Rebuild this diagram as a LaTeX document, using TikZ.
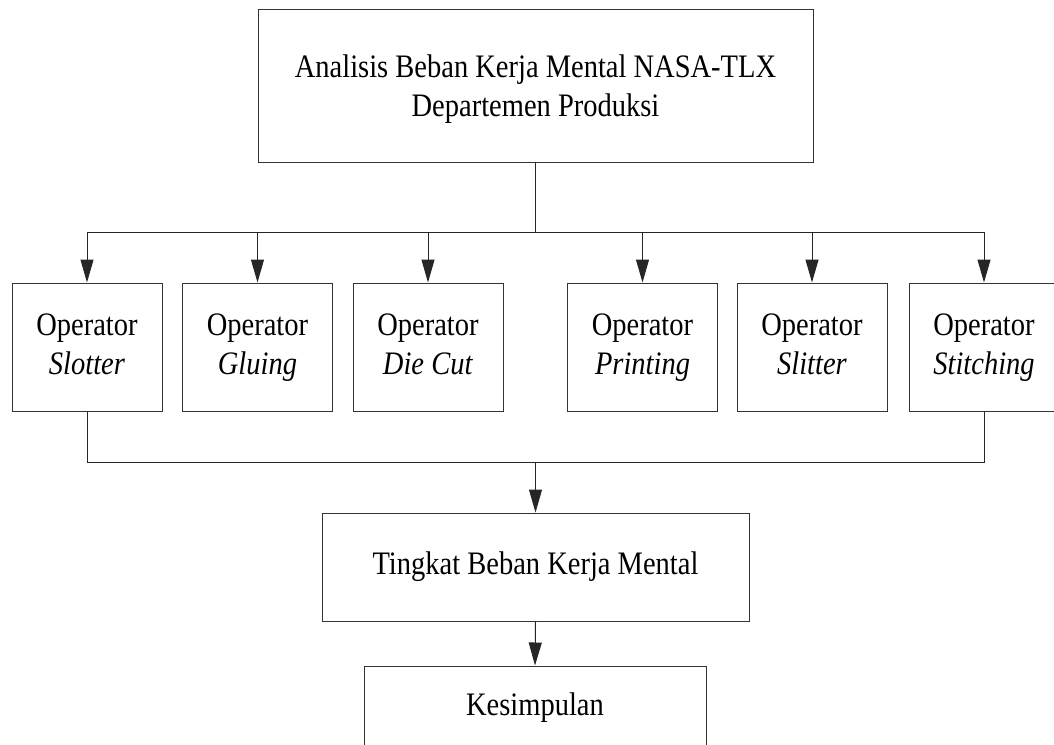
\documentclass[tikz,border=0pt]{standalone}
\usepackage{fontspec}
\setmainfont{Liberation Serif}
\usetikzlibrary{arrows.meta}
\newcommand{\vtxt}[1]{\scalebox{1}[1.15]{\begin{tabular}{@{}c@{}}#1\end{tabular}}}
\begin{document}
\begin{tikzpicture}[x=1pt,y=1pt,
  box/.style={draw=black!80, line width=1pt, rectangle, inner sep=0pt,
    font=\fontsize{28.5}{34}\selectfont},
  opbox/.style={box, minimum width=150pt, minimum height=128pt},
  conn/.style={draw=black!85, line width=1pt},
  arr/.style={conn, -{Triangle[length=23pt,width=13pt]}}]
\useasboundingbox (0,0) rectangle (1054,-744);
\clip (0,0) rectangle (1054,-744);
\node[box, minimum width=555pt, minimum height=153pt] (top) at (535.5,-85.5) {};
\node[font=\fontsize{28.5}{34}\selectfont, inner sep=0pt] (toptext) at ([yshift=-4pt]top.center)
  {\vtxt{Analisis Beban Kerja Mental NASA-TLX\\Departemen Produksi}};
\node[opbox] (op1) at (87,-347) {\vtxt{Operator\\\textit{Slotter}}};
\node[opbox] (op2) at (257.5,-347) {\vtxt{Operator\\\textit{Gluing}}};
\node[opbox] (op3) at (428,-347) {\vtxt{Operator\\\textit{Die Cut}}};
\node[opbox] (op4) at (642.5,-347) {\vtxt{Operator\\\textit{Printing}}};
\node[opbox] (op5) at (812,-347) {\vtxt{Operator\\\textit{Slitter}}};
\node[opbox] (op6) at (984,-347) {\vtxt{Operator\\\textit{Stitching}}};
\node[box, minimum width=427pt, minimum height=108pt] (tbk) at (535.5,-567)
  {\vtxt{Tingkat Beban Kerja Mental}};
\node[box, minimum width=342pt, minimum height=84pt] (kes) at (535,-708)
  {\vtxt{Kesimpulan}};
\coordinate (j1) at (535.5,-232);
\coordinate (j2) at (535.5,-462);
\draw[conn] (top.south) -- (j1);
\draw[conn] (op1.north |- j1) -- (op6.north |- j1);
\foreach \n in {op1,op2,op3,op4,op5,op6}
  \draw[arr] (\n.north |- j1) -- (\n.north);
\draw[conn] (op1.south) -- (op1.south |- j2) -- (op6.south |- j2) -- (op6.south);
\draw[arr] (tbk.north |- j2) -- (tbk.north);
\draw[arr] (tbk.south) -- (kes.north);
\end{tikzpicture}
\end{document}
